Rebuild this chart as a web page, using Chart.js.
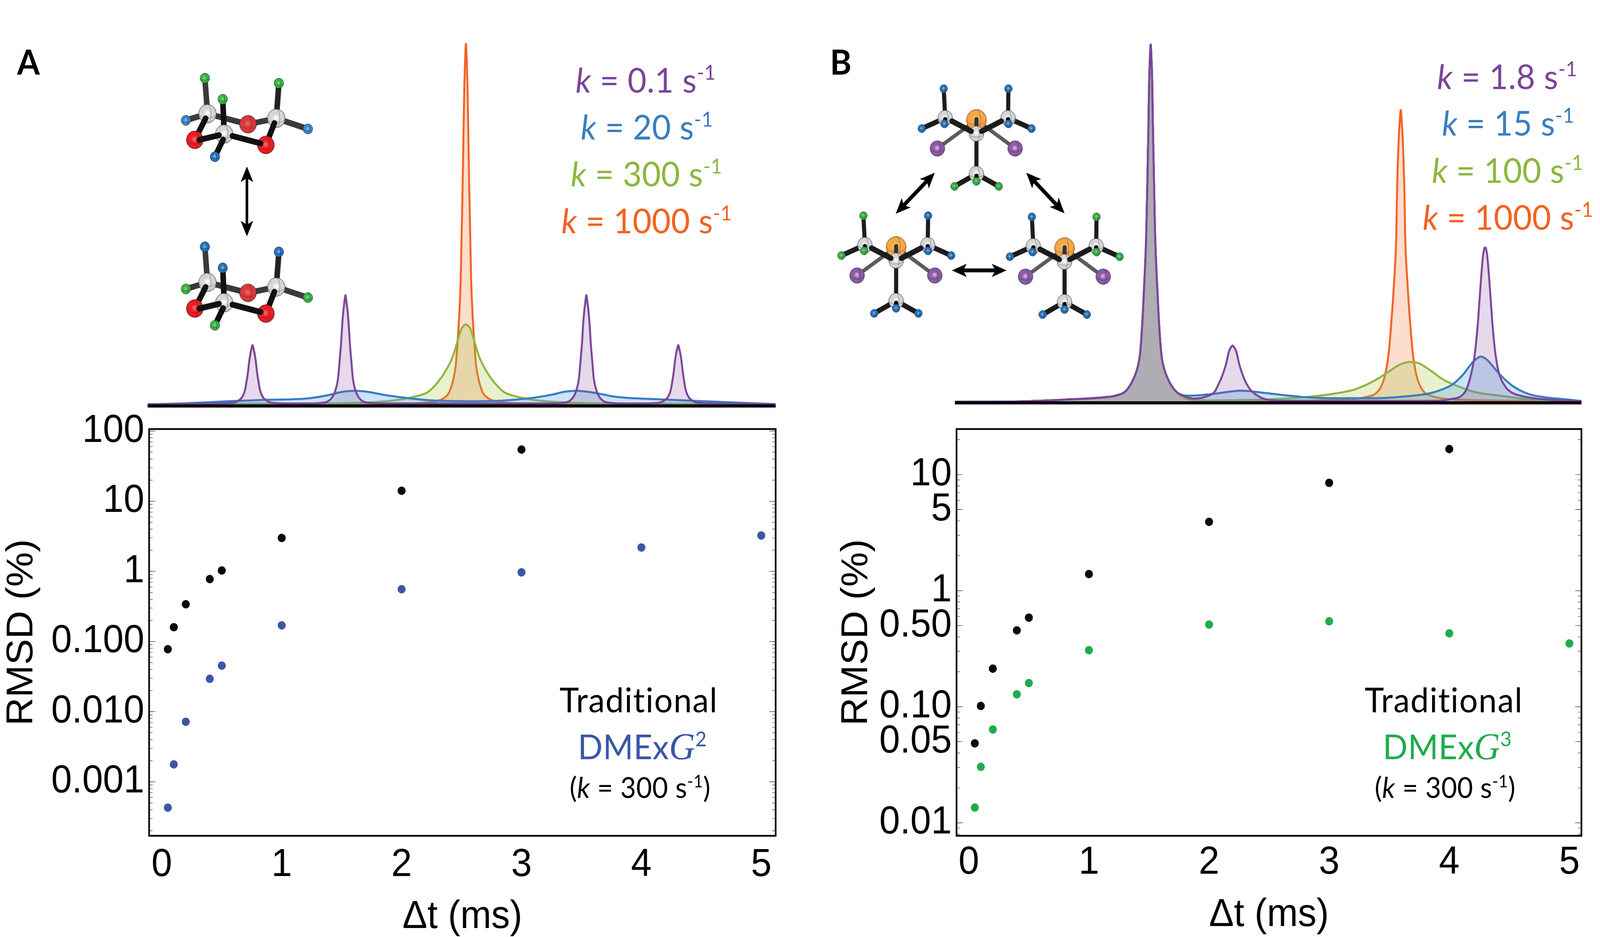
<!DOCTYPE html>
<html>
<head>
<meta charset="utf-8">
<title>DMExG RMSD</title>
<script src="https://cdn.jsdelivr.net/npm/chart.js@4"></script>
<style>
html, body { margin: 0; padding: 0; background: #fff; overflow: hidden; }
#page { position: absolute; left: 0; top: 0; width: 4303px; height: 2398px; transform-origin: 0 0; }
canvas { position: absolute; left: 0; top: 0; }
.t { position: absolute; white-space: nowrap; font-family: Lato, "Open Sans", sans-serif; line-height: 1; font-size: 88px; letter-spacing: .5px; }
.t sup { font-size: .6em; vertical-align: .62em; line-height: 0; }
.s { font-size: 73px; }
.g { font-family: "Liberation Serif", serif; font-style: italic; font-size: 1.1em; line-height: 0; }
.b { font-weight: 700; color: #000; }
.purple { color: #7b4599; } .blue { color: #3a7dc1; } .green { color: #8cb73f; } .orange { color: #f26222; }
</style>
</head>
<body>
<div id="page">
<canvas id="specA" width="4303" height="2398"></canvas>
<canvas id="rmsdA" width="4303" height="2398"></canvas>
<canvas id="specB" width="4303" height="2398"></canvas>
<canvas id="rmsdB" width="4303" height="2398"></canvas>

<div class="t b" style="left:46px;top:113px">A</div>
<div class="t b" style="left:2232px;top:113px">B</div>

<div class="t purple" style="left:1548px;top:159px"><i>k</i> = 0.1 s<sup>-1</sup></div>
<div class="t blue" style="left:1562px;top:279px"><i>k</i> = 20 s<sup>-1</sup></div>
<div class="t green" style="left:1535px;top:399px"><i>k</i> = 300 s<sup>-1</sup></div>
<div class="t orange" style="left:1510px;top:519px"><i>k</i> = 1000 s<sup>-1</sup></div>

<div class="t purple" style="left:3865px;top:150px"><i>k</i> = 1.8 s<sup>-1</sup></div>
<div class="t blue" style="left:3878px;top:269px"><i>k</i> = 15 s<sup>-1</sup></div>
<div class="t green" style="left:3851px;top:390px"><i>k</i> = 100 s<sup>-1</sup></div>
<div class="t orange" style="left:3826px;top:510px"><i>k</i> = 1000 s<sup>-1</sup></div>

<div class="t" style="left:1505px;top:1745px;color:#000;letter-spacing:2px">Traditional</div>
<div class="t" style="left:1554px;top:1865px;color:#3a57a7">DMEx<span class="g">G</span><sup>2</sup></div>
<div class="t s" style="left:1532px;top:1978px;color:#000">(<i>k</i> = 300 s<sup>-1</sup>)</div>

<div class="t" style="left:3670px;top:1745px;color:#000;letter-spacing:2px">Traditional</div>
<div class="t" style="left:3719px;top:1865px;color:#1fad4b">DMEx<span class="g">G</span><sup>3</sup></div>
<div class="t s" style="left:3697px;top:1978px;color:#000">(<i>k</i> = 300 s<sup>-1</sup>)</div>
</div>

<script>
// the window can come out narrower than asked for, so fit the page to it
document.getElementById('page').style.transform =
  'scale(' + (window.innerWidth / 4303) + ',' + (window.innerHeight / 2398) + ')';

// RMSD panels ---------------------------------------------------------
var xTicks = [0, 1, 2, 3, 4, 5];

var dtTradA = [0.05, 0.1, 0.2, 0.4, 0.5, 1, 2, 3];
var rmsdTradA = [0.0776, 0.16, 0.34, 0.777, 1.03, 3.0, 14.1, 54.6];
var dtDmexA = [0.05, 0.1, 0.2, 0.4, 0.5, 1, 2, 3, 4, 5];
var rmsdDmexA = [0.000428, 0.00177, 0.00718, 0.0294, 0.0453, 0.17, 0.557, 0.968, 2.19, 3.25];
var yTicksA = [100, 10, 1, 0.1, 0.01, 0.001];
var yLabelsA = ['100', '10', '1', '0.100', '0.010', '0.001'];

var dtTradB = [0.05, 0.1, 0.2, 0.4, 0.5, 1, 2, 3, 4];
var rmsdTradB = [0.0484, 0.1016, 0.213, 0.455, 0.586, 1.39, 3.92, 8.5, 16.6];
var dtDmexB = [0.05, 0.1, 0.2, 0.4, 0.5, 1, 2, 3, 4, 5];
var rmsdDmexB = [0.01355, 0.0304, 0.0637, 0.128, 0.16, 0.307, 0.51, 0.545, 0.429, 0.351];
var yTicksB = [10, 5, 1, 0.5, 0.1, 0.05, 0.01];
var yLabelsB = ['10', '5', '1', '0.50', '0.10', '0.05', '0.01'];

// Spectrum A ----------------------------------------------------------
var purpleAx = [0, 5,
  11.37, 12.85, 13.92, 14.63, 15.10, 15.54, 15.75, 15.93, 16.05, 16.17, 16.34, 16.52, 16.70, 16.88, 17.06, 17.23, 17.35, 17.47, 17.65, 17.86, 18.30, 18.77, 19.48, 20.55, 22.03,
  26.17, 27.65, 28.72, 29.43, 29.90, 30.34, 30.55, 30.73, 30.85, 30.97, 31.14, 31.32, 31.50, 31.68, 31.86, 32.03, 32.15, 32.27, 32.45, 32.66, 33.10, 33.57, 34.28, 35.35, 36.83,
  64.53, 66.01, 67.08, 67.79, 68.26, 68.70, 68.91, 69.09, 69.21, 69.33, 69.50, 69.68, 69.86, 70.04, 70.22, 70.39, 70.51, 70.63, 70.81, 71.02, 71.46, 71.93, 72.64, 73.71, 75.19,
  79.16, 80.64, 81.71, 82.42, 82.89, 83.33, 83.54, 83.72, 83.84, 83.96, 84.13, 84.31, 84.49, 84.67, 84.85, 85.02, 85.14, 85.26, 85.44, 85.65, 86.09, 86.56, 87.27, 88.34, 89.82,
  100];
var purpleAy = [0.45, 0.5,
  0.7, 0.78, 1.0, 1.7, 2.6, 4.6, 6.8, 8.75, 10.4, 12.3, 14.2, 15.7, 16.8, 15.7, 14.2, 12.3, 10.4, 8.75, 6.8, 4.6, 2.6, 1.7, 1.0, 0.78, 0.7,
  0.7, 0.85, 1.3, 2.5, 4.3, 7.9, 12.1, 15.7, 18.6, 22.2, 25.8, 28.5, 30.6, 28.5, 25.8, 22.2, 18.6, 15.7, 12.1, 7.9, 4.3, 2.5, 1.3, 0.85, 0.7,
  0.7, 0.85, 1.3, 2.5, 4.3, 7.9, 12.1, 15.7, 18.6, 22.2, 25.8, 28.5, 30.6, 28.5, 25.8, 22.2, 18.6, 15.7, 12.1, 7.9, 4.3, 2.5, 1.3, 0.85, 0.7,
  0.7, 0.78, 1.0, 1.7, 2.6, 4.6, 6.8, 8.75, 10.4, 12.3, 14.2, 15.7, 16.8, 15.7, 14.2, 12.3, 10.4, 8.75, 6.8, 4.6, 2.6, 1.7, 1.0, 0.78, 0.7,
  0.45];
var blueAx = [0, 6.1, 12.8, 18.7, 25.2, 28.5, 31.0, 32.9, 35.1, 37.5, 40.4, 44.6, 52.5, 60.4, 64.3, 66.3, 68.3, 70.2, 72.2, 74.2, 82.1, 90.2, 100];
var blueAy = [0.43, 0.75, 1.3, 1.7, 2.05, 2.9, 3.9, 4.2, 3.9, 3.1, 2.4, 1.6, 1.3, 2.05, 3.1, 3.9, 4.2, 3.9, 3.3, 2.6, 1.8, 1.2, 0.5];
var greenAx = [0, 27.18, 35.11, 39.02, 42.57, 44.58, 46.12, 47.31, 48.55, 49.5, 49.91, 50.3, 50.68, 51.06, 51.45, 51.86, 52.81, 54.05, 55.24, 56.78, 58.79, 62.34, 66.25, 74.18, 100];
var greenAy = [0.5, 0.65, 1.0, 1.5, 2.6, 3.8, 6.4, 9.3, 13.5, 18.8, 21.1, 22.1, 22.5, 22.1, 21.1, 18.8, 13.5, 9.3, 6.4, 3.8, 2.6, 1.5, 1.0, 0.65, 0.5];
var orangeAx = [0, 35.88, 41.21, 44.17, 45.94, 47.19, 48.02, 48.67, 49.08, 49.38, 49.61, 49.85, 49.99, 50.15, 50.30, 50.44, 50.56, 50.68,
  50.80, 50.92, 51.06, 51.21, 51.37, 51.51, 51.75, 51.98, 52.28, 52.69, 53.34, 54.17, 55.42, 57.19, 60.15, 65.48, 100];
var orangeAy = [0.5, 0.5, 0.6, 0.9, 1.3, 2.2, 3.8, 7.4, 11.5, 18.5, 25, 35, 47, 60, 76, 89, 96, 100,
  96, 89, 76, 60, 47, 35, 25, 18.5, 11.5, 7.4, 3.8, 2.2, 1.3, 0.9, 0.6, 0.5, 0.5];

// Spectrum B ----------------------------------------------------------
var mainPeakX = [0, 10.25, 17.55, 24.07, 25.61, 27.33, 28.58, 29.17, 29.59, 30.0, 30.3, 30.54, 30.72, 30.89, 31.01, 31.13, 31.25, 31.37, 31.49, 31.61, 31.78, 31.96, 32.2, 32.5, 32.91, 33.33, 33.92, 35.17];
var mainPeakY = [0.3, 0.4, 0.9, 1.6, 2.0, 3.4, 7, 10, 14.3, 25, 36, 47, 62, 77, 90, 96, 100, 96, 90, 77, 62, 47, 36, 25, 14.3, 10, 7, 3.4];

var purpleBx = [36.89, 38.1, 40.5, 41.5, 42.07, 42.55, 43.26, 43.74, 44.13, 44.33, 44.53, 44.92, 45.4, 46.11, 46.59, 47.3, 49.97, 53.23, 70,
  77.09, 79.05, 81.43, 82.49, 83.03, 83.44, 83.74, 84.04, 84.33, 84.63, 84.93, 85.22, 85.52, 85.82, 86.23, 86.77, 87.83, 88.96, 90.92, 93.89, 98.04, 100];
var purpleBy = [1.7, 1.2, 2.0, 3.2, 5.2, 7.0, 10.7, 14.3, 15.7, 16, 15.6, 14.3, 10.7, 7.0, 5.2, 3.4, 0.87, 0.55, 0.5,
  0.55, 1.0, 3.05, 8.8, 14.3, 21.6, 28.8, 36.1, 41.5, 43.4, 41.5, 36.1, 28.8, 21.6, 14.3, 8.8, 4.6, 2.8, 1.75, 1.0, 0.55, 0.5];
var blueBx = [37.51, 41.25, 45.64, 49.38, 53.35, 56.5, 61.25, 67.18, 73.12, 75.67, 77.69, 79.47, 81.01, 82.79, 83.98, 84.99, 86.94, 88.96, 91.51, 94.9, 98.04, 100];
var blueBy = [2.0, 2.5, 3.4, 2.8, 2.0, 1.5, 1.3, 1.3, 2.0, 2.6, 3.7, 5.2, 7.7, 11.6, 12.9, 11.9, 8.0, 4.8, 2.5, 1.4, 0.9, 0.5];
var greenBx = [36.89, 38.1, 40.3, 48.49, 56.62, 60.65, 63.92, 67.18, 69.14, 71.16, 72.64, 74.12, 76.08, 78.04, 80.06, 83.03, 86.94, 90.92, 93.89, 100];
var greenBy = [1.4, 0.9, 0.65, 0.85, 1.7, 2.6, 3.8, 6.4, 8.6, 10.8, 11.4, 11.0, 8.8, 6.4, 4.8, 3.0, 2.0, 1.1, 0.65, 0.5];
var orangeBx = [36.89, 38.5, 45, 57.33, 63.27, 64.75, 66.41, 67.18, 68.19, 68.79, 69.26, 69.62, 70.05, 70.45, 70.57, 70.8, 70.98, 71.16,
  71.34, 71.52, 71.75, 71.87, 72.27, 72.7, 73.06, 73.53, 74.13, 75.14, 75.91, 77.57, 79.05, 85, 100];
var orangeBy = [1.2, 0.7, 0.5, 0.65, 1.0, 1.3, 2.0, 2.6, 5.2, 8.8, 14.3, 21.6, 32.5, 47, 59, 72, 78, 81.7,
  78, 72, 59, 47, 32.5, 21.6, 14.3, 8.8, 5.2, 2.6, 2.0, 1.3, 1.0, 0.65, 0.5];

// helpers -------------------------------------------------------------
var W = 4303, H = 2398;
var TICK_FONT = { family: '"Liberation Sans", Arial, sans-serif', size: 100, lineHeight: 1 };

function pts(xs, ys) {
  return xs.map(function (x, i) { return { x: x, y: ys[i] }; });
}

function specSet(label, line, fill, data) {
  return {
    label: label, data: data, borderColor: line, backgroundColor: fill, borderWidth: 5.2,
    pointRadius: 0, fill: 'origin', clip: false, cubicInterpolationMode: 'monotone', borderJoinStyle: 'round'
  };
}

var PURPLE = '#7b4599', BLUE = '#3a7dc1', GREEN = '#8cb73f', ORANGE = '#f26222';
var PURPLE_F = 'rgba(130,70,150,.2)', BLUE_F = 'rgba(85,165,228,.3)', GREEN_F = 'rgba(167,195,59,.25)', ORANGE_F = 'rgba(243,119,59,.25)';

var baselineSet = {
  label: 'baseline', data: [{ x: 0, y: 0 }, { x: 100, y: 0 }], borderColor: '#000', borderWidth: 8,
  pointRadius: 0, fill: false, clip: false
};

// illustrations -------------------------------------------------------
var ATOMS = {
  grey: ['#ffffff', '#d6d6d6', '#8f8f8f'],
  red: ['#f46a6a', '#ed1c24', '#a81218'],
  redBack: ['#ee6666', '#d63a3c', '#a83032'],
  green: ['#7fdc7f', '#3cb54a', '#1d7f2a'],
  blue: ['#7fc0f0', '#2a75c0', '#124f8f'],
  sky: ['#8cc4ee', '#3f87c9', '#225f99'],
  orange: ['#ffdf70', '#f7a64a', '#cf7f2a'],
  violet: ['#dcb7d8', '#8a5ca8', '#6a4488']
};

function ball(ctx, x, y, r, kind) {
  var c = ATOMS[kind];
  var g = ctx.createRadialGradient(x - r * 0.05, y - r * 0.1, r * 0.05, x, y, r);
  g.addColorStop(0, c[0]);
  g.addColorStop(0.4, c[1]);
  g.addColorStop(0.85, c[1]);
  g.addColorStop(1, c[2]);
  ctx.fillStyle = g;
  ctx.beginPath();
  ctx.arc(x, y, r, 0, Math.PI * 2);
  ctx.fill();
  ctx.strokeStyle = 'rgba(30,30,30,.55)';
  ctx.lineWidth = 1;
  ctx.stroke();
  ctx.beginPath();
  ctx.ellipse(x, y, r, r * 0.45, 0, 0, Math.PI);
  ctx.moveTo(x, y - r);
  ctx.ellipse(x, y, r * 0.4, r, 0, -Math.PI / 2, Math.PI / 2);
  ctx.stroke();
}

function bond(ctx, a, b, w, col) {
  ctx.strokeStyle = col;
  ctx.lineWidth = w;
  ctx.lineCap = 'round';
  ctx.beginPath();
  ctx.moveTo(a[0], a[1]);
  ctx.lineTo(b[0], b[1]);
  ctx.stroke();
}

function arrow(ctx, x1, y1, x2, y2, shaft) {
  var len = Math.hypot(x2 - x1, y2 - y1), ux = (x2 - x1) / len, uy = (y2 - y1) / len;
  var L = 40, Wd = 17, N = 30;
  ctx.fillStyle = '#000';
  ctx.strokeStyle = '#000';
  ctx.lineWidth = shaft;
  ctx.lineCap = 'butt';
  ctx.beginPath();
  ctx.moveTo(x1 + ux * N, y1 + uy * N);
  ctx.lineTo(x2 - ux * N, y2 - uy * N);
  ctx.stroke();
  [[x2, y2, 1], [x1, y1, -1]].forEach(function (h) {
    var s = h[2], tx = h[0], ty = h[1];
    ctx.beginPath();
    ctx.moveTo(tx, ty);
    ctx.lineTo(tx - s * ux * L - uy * Wd, ty - s * uy * L + ux * Wd);
    ctx.lineTo(tx - s * ux * N, ty - s * uy * N);
    ctx.lineTo(tx - s * ux * L + uy * Wd, ty - s * uy * L - ux * Wd);
    ctx.closePath();
    ctx.fill();
  });
}

function ring(ctx, dy, up, side) {
  function p(x, y) { return [x, y + dy]; }
  var CL = p(558, 291), CR = p(743, 303), CM = p(603, 343), OB = p(667, 318), OL = p(524, 358), OR = p(715, 371);
  var H1 = p(551, 200), H2 = p(750, 213), H3 = p(599, 254), H4 = p(500, 308), H5 = p(828, 330), H6 = p(578, 401);
  var back = '#3a3a3a', front = '#111';
  bond(ctx, CL, H1, 15, back); bond(ctx, CR, H2, 15, '#222');
  bond(ctx, CL, H4, 15, back); bond(ctx, CR, H5, 15, back);
  bond(ctx, CL, OB, 15, back); bond(ctx, CR, OB, 15, back);
  ball(ctx, H1[0], H1[1], 13, up); ball(ctx, H2[0], H2[1], 13, up);
  ball(ctx, H4[0], H4[1], 13, side === 'blue' ? 'sky' : side); ball(ctx, H5[0], H5[1], 13, side === 'blue' ? 'sky' : side);
  ball(ctx, OB[0], OB[1], 23, 'redBack');
  ball(ctx, CL[0], CL[1], 24, 'grey'); ball(ctx, CR[0], CR[1], 24, 'grey');
  bond(ctx, [CL[0] - 5, CL[1] + 12], OL, 15, front); bond(ctx, [CR[0] - 5, CR[1] + 12], OR, 15, front);
  ball(ctx, OL[0], OL[1], 23, 'red'); ball(ctx, OR[0], OR[1], 23, 'red');
  bond(ctx, CM, H3, 15, front);
  ball(ctx, H3[0], H3[1], 13, up);
  ball(ctx, CM[0], CM[1], 24, 'grey');
  bond(ctx, [CM[0] - 14, CM[1] + 3], [OL[0] + 12, OL[1]], 15, front);
  bond(ctx, [CM[0] + 22, CM[1] + 5], [OR[0] - 14, OR[1] - 4], 15, front);
  bond(ctx, [CM[0] - 3, CM[1] + 14], H6, 15, front);
  ball(ctx, H6[0], H6[1], 13, side === 'blue' ? 'blue' : 'green');
}

function tripod(ctx, dx, dy, lc, rc, bc) {
  function p(x, y) { return [x + dx, y + dy]; }
  var S = p(2626, 307), C0 = p(2626, 342), CL = p(2542, 302), CR = p(2711, 302), CB = p(2626, 445);
  var IL = p(2521, 380), IR = p(2730, 380);
  var dark = '#1c1c1c';
  bond(ctx, S, IL, 10, '#5c5c5c'); bond(ctx, S, IR, 10, '#5c5c5c');
  ball(ctx, IL[0], IL[1], 20, 'violet'); ball(ctx, IR[0], IR[1], 20, 'violet');
  ball(ctx, S[0], S[1], 27, 'orange');
  var Lt = p(2538, 227), Lo = p(2479, 329), Lf = p(2540, 317);
  var Rt = p(2712, 227), Ro = p(2774, 329), Rf = p(2712, 317);
  var Bl = p(2567, 477), Bf = p(2626, 464), Br = p(2686, 477);
  bond(ctx, CL, Lt, 11, dark); bond(ctx, CR, Rt, 11, dark);
  bond(ctx, CL, Lo, 13, dark); bond(ctx, CR, Ro, 13, dark);
  bond(ctx, CB, Bl, 13, dark); bond(ctx, CB, Br, 13, dark);
  bond(ctx, C0, CB, 11, dark);
  ball(ctx, Lt[0], Lt[1], 10.5, lc); ball(ctx, Lo[0], Lo[1], 10.5, lc);
  ball(ctx, Rt[0], Rt[1], 10.5, rc); ball(ctx, Ro[0], Ro[1], 10.5, rc);
  ball(ctx, Bl[0], Bl[1], 10.5, bc); ball(ctx, Br[0], Br[1], 10.5, bc);
  ball(ctx, CL[0], CL[1], 20, 'grey'); ball(ctx, CR[0], CR[1], 20, 'grey'); ball(ctx, CB[0], CB[1], 20, 'grey');
  bond(ctx, [CL[0], CL[1] + 3], Lf, 11, '#000'); bond(ctx, [CR[0], CR[1] + 3], Rf, 11, '#000'); bond(ctx, [CB[0], CB[1] + 5], Bf, 11, '#000');
  ball(ctx, Lf[0], Lf[1], 10.5, lc); ball(ctx, Rf[0], Rf[1], 10.5, rc); ball(ctx, Bf[0], Bf[1], 10.5, bc);
  bond(ctx, [S[0], S[1] - 2], C0, 11, '#333');
  ball(ctx, C0[0], C0[1], 20, 'grey');
  bond(ctx, [CL[0] + 18, CL[1] + 8], [C0[0] - 14, C0[1] - 6], 14, dark);
  bond(ctx, [CR[0] - 18, CR[1] + 8], [C0[0] + 14, C0[1] - 6], 14, dark);
}

var moleculesA = {
  id: 'moleculesA',
  afterDraw: function (chart) {
    var ctx = chart.ctx;
    ctx.save();
    ring(ctx, 0, 'green', 'blue');
    arrow(ctx, 664, 426, 664, 605, 7);
    ring(ctx, 431.6, 'blue', 'green');
    ctx.restore();
  }
};

var moleculesB = {
  id: 'moleculesB',
  afterDraw: function (chart) {
    var ctx = chart.ctx;
    ctx.save();
    tripod(ctx, 0, 0, 'blue', 'blue', 'green');
    tripod(ctx, -216, 325, 'green', 'blue', 'blue');
    tripod(ctx, 237, 328, 'blue', 'green', 'blue');
    arrow(ctx, 2409, 547, 2514, 442, 10);
    arrow(ctx, 2760, 442, 2863, 546, 10);
    arrow(ctx, 2560, 692, 2707, 692, 10);
    ctx.restore();
  }
};

// frame and the inward log ticks, taken from the y scale
function frameTicks(majors) {
  return {
    id: 'frameTicks',
    afterDatasetsDraw: function (chart) {
      var a = chart.chartArea, y = chart.scales.y, ctx = chart.ctx;
      ctx.save();
      ctx.strokeStyle = '#555';
      ctx.lineWidth = 1.4;
      function tick(v, len) {
        var py = y.getPixelForValue(v);
        ctx.beginPath();
        ctx.moveTo(a.left, py); ctx.lineTo(a.left + len, py);
        ctx.moveTo(a.right, py); ctx.lineTo(a.right - len, py);
        ctx.stroke();
      }
      for (var d = Math.floor(Math.log10(y.min)); d <= Math.ceil(Math.log10(y.max)); d++) {
        for (var m = 1; m <= 9; m++) {
          var v = m * Math.pow(10, d);
          if (v >= y.min && v <= y.max) tick(v, 9.5);
        }
      }
      majors.forEach(function (v) { tick(v, 17); });
      ctx.strokeStyle = '#000';
      ctx.lineWidth = 4.5;
      ctx.strokeRect(a.left, a.top, a.right - a.left, a.bottom - a.top);
      ctx.restore();
    }
  };
}

function spectrum(id, box, sets, plugin) {
  new Chart(document.getElementById(id), {
    type: 'line',
    data: { datasets: [baselineSet].concat(sets) },
    options: {
      responsive: false, animation: false, parsing: false, normalized: true,
      layout: { padding: { left: box.left, right: W - box.right, top: box.top, bottom: H - box.bottom } },
      plugins: { legend: { display: false }, tooltip: { enabled: false } },
      scales: {
        x: { type: 'linear', min: 0, max: 100, display: false },
        y: { type: 'linear', min: 0, max: 100, display: false }
      }
    },
    plugins: [plugin]
  });
}

function rmsd(id, p) {
  new Chart(document.getElementById(id), {
    type: 'scatter',
    data: {
      datasets: [
        { label: 'Traditional', data: pts(p.dt1, p.r1), backgroundColor: '#050a0a', borderWidth: 0, pointRadius: 10.7 },
        { label: p.name, data: pts(p.dt2, p.r2), backgroundColor: p.color, borderWidth: 0, pointRadius: 10.7 }
      ]
    },
    options: {
      responsive: false, animation: false,
      layout: { padding: { left: p.padLeft, right: W - p.right, top: 1098, bottom: 0 } },
      plugins: { legend: { display: false }, tooltip: { enabled: false } },
      scales: {
        x: {
          type: 'linear', min: p.xMin, max: p.xMax,
          grid: { display: false }, border: { display: false },
          afterFit: function (s) { s.height = H - 2139; },
          afterBuildTicks: function (s) { s.ticks = xTicks.map(function (v) { return { value: v }; }); },
          ticks: { color: '#000', font: TICK_FONT, padding: p.xPad, maxRotation: 0, autoSkip: false },
          title: { display: true, text: 'Δt (ms)', color: '#000', font: TICK_FONT, padding: { top: 0, bottom: p.xTitlePad } }
        },
        y: {
          type: 'logarithmic', min: p.yMin, max: p.yMax,
          grid: { display: false }, border: { display: false },
          afterFit: function (s) { s.width = p.yWidth; },
          afterBuildTicks: function (s) { s.ticks = p.yTicks.map(function (v) { return { value: v }; }); },
          ticks: {
            color: '#000', font: TICK_FONT, padding: 5, autoSkip: false,
            callback: function (v, i) { return p.yLabels[i]; }
          },
          title: { display: true, text: 'RMSD (%)', color: '#000', font: TICK_FONT, padding: { top: p.yTitlePad, bottom: 0 } }
        }
      }
    },
    plugins: [frameTicks(p.yTicks)]
  });
}

// charts --------------------------------------------------------------
spectrum('specA', { left: 397, right: 2086, top: 112, bottom: 1039 }, [
  specSet('k = 0.1 s-1', PURPLE, PURPLE_F, pts(purpleAx, purpleAy)),
  specSet('k = 20 s-1', BLUE, BLUE_F, pts(blueAx, blueAy)),
  specSet('k = 300 s-1', GREEN, GREEN_F, pts(greenAx, greenAy)),
  specSet('k = 1000 s-1', ORANGE, ORANGE_F, pts(orangeAx, orangeAy))
], moleculesA);

spectrum('specB', { left: 2568, right: 4253, top: 114, bottom: 1031 }, [
  specSet('k = 1.8 s-1', PURPLE, PURPLE_F, pts(mainPeakX.concat(purpleBx), mainPeakY.concat(purpleBy))),
  specSet('k = 15 s-1', BLUE, BLUE_F, pts(mainPeakX.concat(blueBx), mainPeakY.concat(blueBy))),
  specSet('k = 100 s-1', GREEN, GREEN_F, pts(mainPeakX.concat(greenBx), mainPeakY.concat(greenBy))),
  specSet('k = 1000 s-1', ORANGE, ORANGE_F, pts(mainPeakX.concat(orangeBx), mainPeakY.concat(orangeBy)))
], moleculesB);

rmsd('rmsdA', {
  dt1: dtTradA, r1: rmsdTradA, dt2: dtDmexA, r2: rmsdDmexA, name: 'DMExG2', color: '#3a57a7',
  yTicks: yTicksA, yLabels: yLabelsA, yMin: 0.0001698, yMax: 107,
  xMin: -0.106, xMax: 5.12, padLeft: 0, yWidth: 401, right: 2086,
  xPad: 17, xTitlePad: 1, yTitlePad: 9
});

rmsd('rmsdB', {
  dt1: dtTradB, r1: rmsdTradB, dt2: dtDmexB, r2: rmsdDmexB, name: 'DMExG3', color: '#1fad4b',
  yTicks: yTicksB, yLabels: yLabelsB, yMin: 0.00773, yMax: 24.7,
  xMin: -0.102, xMax: 5.10, padLeft: 2210, yWidth: 362.5, right: 4253,
  xPad: 11, xTitlePad: 6, yTitlePad: 44
});
</script>
</body>
</html>
